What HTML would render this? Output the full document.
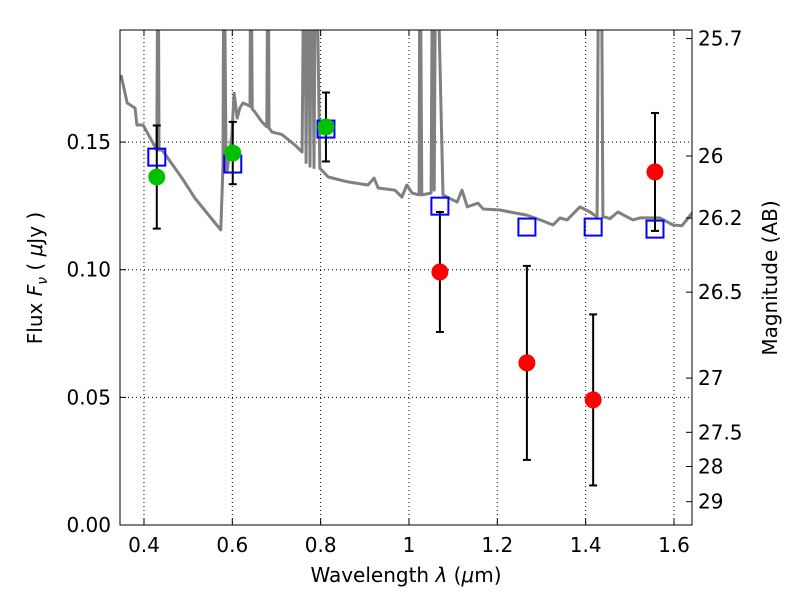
<!DOCTYPE html>
<html><head><meta charset="utf-8"><style>
body{margin:0;background:#fff;}
svg{font-family:"DejaVu Sans","Liberation Sans",sans-serif;}
</style></head><body>
<svg id="chart" width="800" height="600" viewBox="0 0 800 600" xmlns="http://www.w3.org/2000/svg">
<defs><clipPath id="clip"><rect x="120" y="30" width="572" height="495"/></clipPath></defs>
<rect width="800" height="600" fill="#fff"/>
<g id="grid"></g>
<g id="spec" clip-path="url(#clip)"></g>
<g id="marks"></g>
<rect x="120" y="30" width="572" height="495" fill="none" stroke="#000" stroke-width="1"/>
<g id="axes"></g>
<text x="406" y="582" text-anchor="middle" font-size="20">Wavelength  <tspan font-style="italic">λ</tspan> (<tspan font-style="italic">μ</tspan>m)</text>
<text transform="translate(42,278) rotate(-90)" text-anchor="middle" font-size="20">Flux  <tspan font-style="italic">F</tspan><tspan font-style="italic" font-size="14" dy="5">ν</tspan><tspan dy="-5">  ( </tspan><tspan font-style="italic">μ</tspan>Jy )</text>
<text transform="translate(777,278) rotate(-90)" text-anchor="middle" font-size="20">Magnitude (AB)</text>
</svg>
<script>
const specLam=[0.348,0.362,0.380,0.384,0.398,0.429,0.432,0.434,0.441,0.486,0.515,0.561,0.574,0.579,0.581,0.586,0.588,0.599,0.604,0.611,0.617,0.624,0.635,0.640,0.642,0.645,0.651,0.667,0.678,0.681,0.683,0.690,0.712,0.742,0.758,0.763,0.767,0.771,0.776,0.780,0.785,0.789,0.798,0.817,0.862,0.907,0.921,0.930,0.968,0.984,0.995,1.007,1.023,1.025,1.029,1.050,1.054,1.057,1.061,1.077,1.109,1.120,1.132,1.156,1.168,1.206,1.240,1.267,1.297,1.326,1.342,1.358,1.387,1.410,1.426,1.430,1.435,1.439,1.444,1.455,1.473,1.507,1.523,1.568,1.598,1.618,1.643];
const specFlux=[0.1763,0.1653,0.1633,0.1567,0.1567,0.1469,0.25,0.1469,0.1469,0.1359,0.1281,0.1183,0.1156,0.1410,0.25,0.1383,0.1383,0.1528,0.1692,0.1594,0.1633,0.1653,0.1645,0.1640,0.25,0.1630,0.1618,0.1579,0.1560,0.25,0.1555,0.1539,0.1530,0.1488,0.1461,0.25,0.1420,0.25,0.1405,0.25,0.1400,0.25,0.1398,0.1363,0.1344,0.1332,0.1359,0.1320,0.1312,0.1285,0.1332,0.1300,0.1293,0.25,0.1293,0.1300,0.25,0.1312,0.25,0.1293,0.1265,0.1312,0.1246,0.1261,0.1238,0.1234,0.1222,0.1214,0.1195,0.1175,0.1203,0.1195,0.1246,0.1226,0.1206,0.25,0.25,0.1206,0.1206,0.1200,0.1226,0.1195,0.1203,0.1203,0.1175,0.1172,0.1226];
const photLam=[0.429,0.601,0.812,1.070,1.267,1.417,1.557];
const modelFlux=[0.1441,0.1414,0.1551,0.1249,0.1167,0.1167,0.1159];
const obsFlux=[0.1363,0.1457,0.1559,0.0991,0.0635,0.0490,0.1383];
const obsErr=[0.0202,0.0122,0.0135,0.0235,0.0380,0.0335,0.0231];
const obsColor=["#00c000","#00c000","#00c000","#ff0000","#ff0000","#ff0000","#ff0000"];
const xTicks=[0.4,0.6,0.8,1.0,1.2,1.4,1.6];
const xTickLabels=["0.4","0.6","0.8","1","1.2","1.4","1.6"];
const yTicks=[0,0.05,0.10,0.15];
const yTickLabels=["0.00","0.05","0.10","0.15"];
const magTicks=[25.7,26,26.2,26.5,27,27.5,28,29];
const magTickLabels=["25.7","26","26.2","26.5","27","27.5","28","29"];

const X0=120,X1=692,Y0=30,Y1=525,LMIN=0.3457,LMAX=1.6408,FMAX=0.1939;
const sx=v=>X0+(v-LMIN)/(LMAX-LMIN)*(X1-X0);
const sy=v=>Y1-v/FMAX*(Y1-Y0);
const NS="http://www.w3.org/2000/svg";
function mk(tag,attrs,parent){const e=document.createElementNS(NS,tag);for(const k in attrs)e.setAttribute(k,attrs[k]);parent.appendChild(e);return e;}
const grid=document.getElementById('grid'),axes=document.getElementById('axes'),spec=document.getElementById('spec'),marks=document.getElementById('marks');

xTicks.forEach((t,i)=>{const x=sx(t);
 const g=mk('line',{x1:x,x2:x,y1:Y0,y2:Y1,stroke:'#000','stroke-dasharray':'1,3','stroke-width':1},grid);
 
 mk('line',{x1:x,x2:x,y1:Y1,y2:Y1-6,stroke:'#000'},axes);
 mk('line',{x1:x,x2:x,y1:Y0,y2:Y0+6,stroke:'#000'},axes);
 const tx=mk('text',{x:x,y:Y1+27,'text-anchor':'middle','font-size':20},axes);tx.textContent=xTickLabels[i];
 
});
yTicks.forEach((t,i)=>{const y=sy(t);
 const g=mk('line',{x1:X0,x2:X1,y1:y,y2:y,stroke:'#000','stroke-dasharray':'1,3','stroke-width':1},grid);
 
 mk('line',{x1:X0,x2:X0+6,y1:y,y2:y,stroke:'#000'},axes);
 const tx=mk('text',{x:X0-9,y:y+7,'text-anchor':'end','font-size':20},axes);tx.textContent=yTickLabels[i];
 
});
magTicks.forEach((m,i)=>{const f=Math.pow(10,(23.9-m)/2.5);const y=sy(f);
 mk('line',{x1:X1,x2:X1-6,y1:y,y2:y,stroke:'#000'},axes);
 const tx=mk('text',{x:X1+6,y:y+7,'font-size':20},axes);tx.textContent=magTickLabels[i];
 
});
const pts=specLam.map((l,i)=>sx(l).toFixed(1)+','+sy(specFlux[i]).toFixed(1)).join(' ');
const pl=mk('polyline',{points:pts,fill:'none',stroke:'#808080','stroke-width':3,'stroke-linejoin':'round'},spec);


photLam.forEach((l,i)=>{const x=sx(l);
 const top=sy(obsFlux[i]+obsErr[i]),bot=sy(obsFlux[i]-obsErr[i]);
 const eb=mk('g',{stroke:'#000','stroke-width':2},marks);
 
 mk('line',{x1:x,x2:x,y1:top,y2:bot},eb);
 mk('line',{x1:x-4,x2:x+4,y1:top,y2:top},eb);
 mk('line',{x1:x-4,x2:x+4,y1:bot,y2:bot},eb);
});
photLam.forEach((l,i)=>{const x=sx(l),y=sy(modelFlux[i]);
 const r=mk('rect',{x:x-8.5,y:y-8.5,width:17,height:17,fill:'none',stroke:'#0000ff','stroke-width':2},marks);
 
});
photLam.forEach((l,i)=>{const x=sx(l),y=sy(obsFlux[i]);
 const c=mk('circle',{cx:x,cy:y,r:8.5,fill:obsColor[i]},marks);
 
});
</script>
</body></html>
